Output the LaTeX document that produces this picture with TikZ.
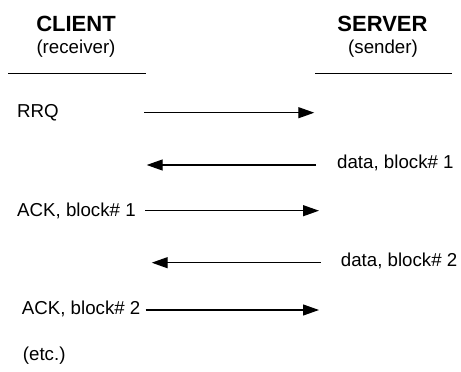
\documentclass[tikz,border=0pt]{standalone}
\usepackage{fontspec}
\setmainfont{Liberation Sans}
\usetikzlibrary{arrows.meta}
\begin{document}
\begin{tikzpicture}[x=1pt,y=-1pt,
  lbl/.style={inner sep=0pt,font=\fontsize{18.7}{22}\selectfont},
  hdr/.style={inner sep=0pt,font=\fontsize{22}{26}\selectfont\bfseries},
  rule/.style={line width=1.1pt},
  msg/.style={line width=1.2pt,-{Triangle[length=16pt,width=11pt]}}]
\useasboundingbox (0,0) rectangle (461,372);
% headers
\node[hdr,anchor=base] (client) at (76,31.7) {CLIENT};
\node[lbl,anchor=base] (clientsub) at (76,53) {(receiver)};
\node[hdr,anchor=base] (server) at (382.5,31.7) {SERVER};
\node[lbl,anchor=base] (serversub) at (383,53) {(sender)};
% header rules
\coordinate (cl1) at (8.3,73.3);
\coordinate (cl2) at (145.7,73.3);
\coordinate (sl1) at (315,73.3);
\coordinate (sl2) at (451.7,73.3);
\draw[rule] (cl1) -- (cl2);
\draw[rule] (sl1) -- (sl2);
% labels
\node[lbl,anchor=base west] (rrq) at (17,117) {RRQ};
\node[lbl,anchor=base west] (d1) at (337,168.3) {data, block\# 1};
\node[lbl,anchor=base west] (ack1) at (17,216.7) {ACK, block\# 1};
\node[lbl,anchor=base west] (d2) at (340.7,266.7) {data, block\# 2};
\node[lbl,anchor=base west] (ack2) at (21.7,314) {ACK, block\# 2};
\node[lbl,anchor=base west] (etc) at (22.7,360) {(etc.)};
% arrow ends
\coordinate (r1s) at (144.3,112.7);
\coordinate (r1e) at (314.3,112.7);
\coordinate (d1s) at (316,165);
\coordinate (d1e) at (146.7,165);
\coordinate (a1s) at (145,210.7);
\coordinate (a1e) at (319,210.7);
\coordinate (d2s) at (320.7,262.7);
\coordinate (d2e) at (151.7,262.7);
\coordinate (a2s) at (145.7,310);
\coordinate (a2e) at (319,310);
% arrows
\draw[msg] (r1s) -- (r1e);
\draw[msg] (d1s) -- (d1e);
\draw[msg] (a1s) -- (a1e);
\draw[msg] (d2s) -- (d2e);
\draw[msg] (a2s) -- (a2e);
\end{tikzpicture}
\end{document}
